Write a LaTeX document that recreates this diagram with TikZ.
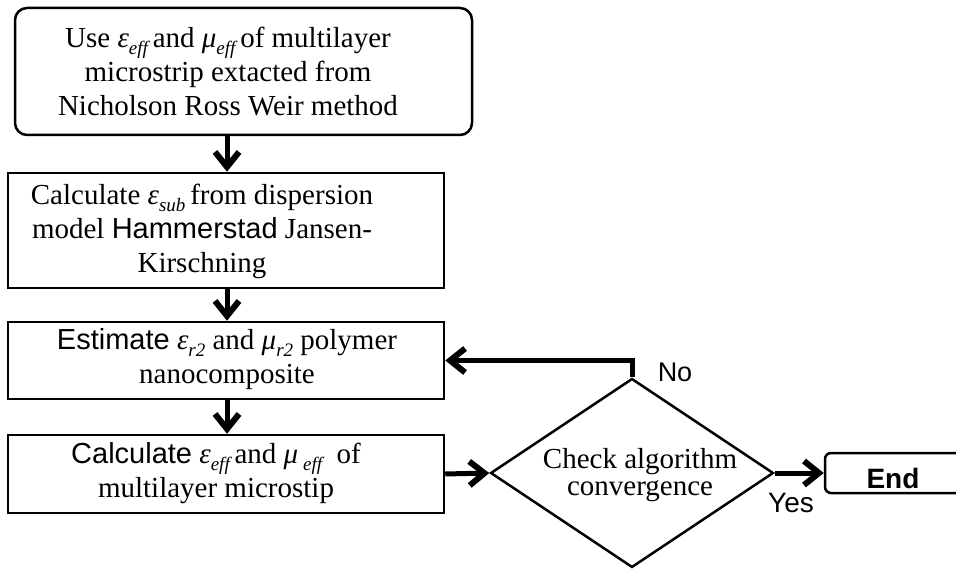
\documentclass[tikz,border=0pt]{standalone}
\usepackage{fontspec}
\setmainfont{Liberation Serif}
\newfontfamily\arialfont{Liberation Sans}
\usetikzlibrary{arrows.meta,shapes.geometric}

% lowered italic subscript used after the Greek symbols
\newcommand{\lowsub}[1]{\raisebox{-7pt}{\fontsize{19}{19}\selectfont\itshape #1}}

\begin{document}
\begin{tikzpicture}[x=1pt,y=-1pt,
  every node/.style={font=\fontsize{29}{34}\selectfont},
  box/.style={draw, line width=2.5pt, inner sep=0pt},
  txt/.style={align=center, inner sep=0pt},
  lbl/.style={inner sep=0pt, font=\arialfont\fontsize{28}{28}\selectfont},
  flow/.style={line width=5pt, -{Straight Barb[length=15pt,width=24pt,line width=6pt]}},
]
\clip (0,0) rectangle (956,572);

% process boxes
\node[box, rounded corners=12pt, minimum width=457pt, minimum height=127pt] (b1) at (243.5,71.5) {};
\node[box, minimum width=436pt, minimum height=115pt] (b2) at (226,230.5) {};
\node[box, minimum width=436pt, minimum height=77pt] (b3) at (226,360.5) {};
\node[box, minimum width=436pt, minimum height=78pt] (b4) at (226,474) {};

% decision and end
\node[draw, diamond, line width=2.5pt, inner sep=0pt, minimum width=283pt, minimum height=189pt] (dia) at (632,473) {};
\node[box, rounded corners=6pt, minimum width=165pt, minimum height=40pt] (endb) at (907.5,473) {};

% box texts
\node[txt] (t1) at (228,72) {Use \textit{ε}\lowsub{eff}\,and \textit{μ}\lowsub{eff}\,of multilayer\\microstrip extacted from\\Nicholson Ross Weir method};
\node[txt] (t2) at (202,231) {Calculate \textit{ε}\lowsub{sub}\,from dispersion\\model {\arialfont Hammerstad} Jansen-\\Kirschning};
\node[txt] (t3) at (227,359.5) {{\arialfont Estimate} \textit{ε}\lowsub{r2} and \textit{μ}\lowsub{r2} polymer\\nanocomposite};
\node[txt] (t4) at (216,473.5) {{\arialfont Calculate} \textit{ε}\lowsub{eff}\,and \textit{μ}\,\lowsub{eff} \ of\\multilayer microstip};
\node[txt, font=\fontsize{29}{27}\selectfont] (t5) at (640,475.5) {Check algorithm\\convergence};
\node[lbl, font=\arialfont\bfseries\fontsize{28}{28}\selectfont] (t6) at (893,478) {End};

% branch labels
\node[lbl, font=\arialfont\fontsize{27}{27}\selectfont] (no) at (675,372) {No};
\node[lbl] (yes) at (791,503) {Yes};

% connectors
\draw[flow] (b1.south -| 227,0) -- (b2.north -| 227,0);
\draw[flow] (b2.south -| 227,0) -- (b3.north -| 227,0);
\draw[flow] (b3.south -| 227,0) -- (b4.north -| 227,0);
\draw[flow] (b4.east) -- (dia.west);
\draw[flow] (dia.east) -- (endb.west);
\draw[flow] (dia.north) |- (b3.east);
\end{tikzpicture}
\end{document}
